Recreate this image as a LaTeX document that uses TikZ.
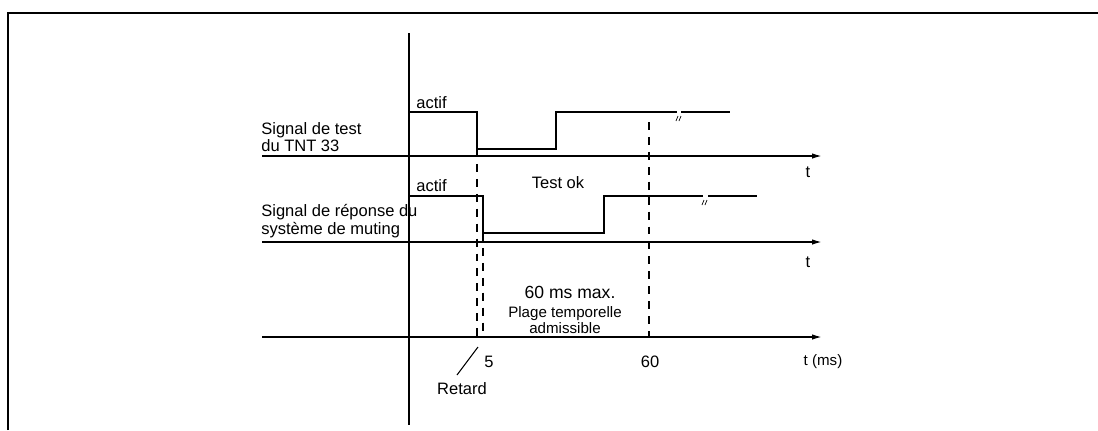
\documentclass[tikz,border=0pt]{standalone}
\usepackage{fontspec}
\setmainfont{Liberation Sans}
\usetikzlibrary{arrows.meta}

\begin{document}
\begin{tikzpicture}[x=0.02cm, y=-0.02cm, >={Latex[length=2mm,width=1.1mm]},
  sig/.style={line width=1.2pt},
  axis/.style={line width=0.9pt, ->},
  guide/.style={line width=0.9pt, dash pattern=on 4.5pt off 4pt},
  lbl/.style={font=\fontsize{9.4}{8.3}\selectfont, inner sep=0pt}]

% Parameters
\def\xO{409}  % origin
\def\xA{477}  % test signal falls
\def\xB{483}  % response falls (5 ms)
\def\xS{649}  % 60 ms
\def\xL{262}  % axes start
\def\xR{822}  % axes end

\useasboundingbox (0,0) rectangle (1098,430);

% Frame
\draw[line width=1.1pt] (8,430) -- (8,13) -- (1098,13);

% Time axes
\coordinate (A1) at (\xL,156);
\coordinate (A2) at (\xL,242);
\coordinate (A3) at (\xL,337);
\draw[axis] (A1) -- (\xR,156);
\draw[axis] (A2) -- (\xR,242);
\draw[axis] (A3) -- (\xR,337);
\node[lbl] (t1) at (808,172) {t};
\node[lbl] (t2) at (808,262) {t};
\node[lbl, font=\fontsize{8.6}{10}\selectfont] (tms) at (823,362) {t (ms)};

% Origin
\draw[line width=0.6pt] (\xO,33) -- (\xO,425);

% Test signal
\draw[sig] (\xO,112) -- (\xA,112) -- (\xA,149) -- (556,149) -- (556,112) -- (677,112);
\draw[sig] (681,112) -- (730,112);
\draw[line width=0.4pt] (676,121) -- (678,116) (679,121) -- (681,116);

% Response signal
\draw[sig] (\xO,196) -- (\xB,196) -- (\xB,233) -- (604,233) -- (604,196) -- (703,196);
\draw[sig] (708,196) -- (757,196);
\draw[line width=0.4pt] (702,205) -- (704,200) (705,205) -- (707,200);

% Guides
\draw[guide] (\xA,149) -- (\xA,337);
\draw[guide] (\xB,233) -- (\xB,337);
\draw[guide] (\xS,122) -- (\xS,337);

% Labels
\node[lbl, anchor=west] (actifA) at (416,103) {actif};
\node[lbl, anchor=west] (actifB) at (416,186) {actif};
\node[lbl, anchor=west, align=left] (sigTest) at (261,137) {Signal de test\\du TNT 33};
\node[lbl, anchor=west, align=left] (sigRep) at (261,221) {Signal de réponse du\\système de muting};
\node[lbl] (testok) at (558,183) {Test ok};
\node[lbl, font=\fontsize{10}{12}\selectfont] (max) at (570,292) {60 ms max.};
\node[lbl, font=\fontsize{8.6}{8}\selectfont, align=center] (plage) at (565,320) {Plage temporelle\\admissible};

% Ticks
\node[lbl] (five) at (489,362) {5};
\node[lbl] (sixty) at (650,362) {60};
\node[lbl] (retard) at (462,389) {Retard};
\coordinate (R1) at (478,347);
\coordinate (R2) at (457,375);
\draw[line width=0.6pt] (R1) -- (R2);

\end{tikzpicture}
\end{document}
